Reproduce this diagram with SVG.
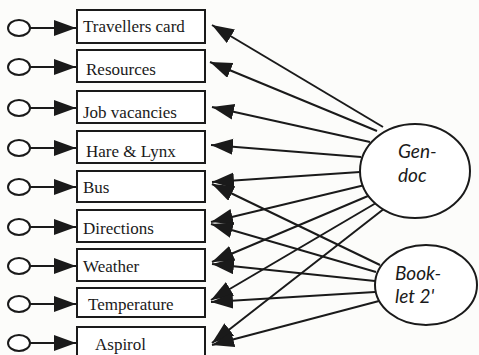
<svg xmlns="http://www.w3.org/2000/svg" width="479" height="355" viewBox="0 0 479 355">
  <style>
    .bg { fill: #fcfcfa; }
    .box { fill: #ffffff; stroke: #1a1a1a; stroke-width: 2; }
    .port { fill: #ffffff; stroke: #1a1a1a; stroke-width: 2; }
    .src { fill: #ffffff; stroke: #1a1a1a; stroke-width: 2; }
    .lbl { font-family: "Liberation Serif", "Times New Roman", serif; font-size: 17px; fill: #1a1a1a; }
    .slbl { font-family: Lato, "Open Sans", sans-serif; font-style: italic; font-size: 19px; fill: #1a1a1a; }
    .edge { stroke: #1a1a1a; stroke-width: 2; fill: none; marker-end: url(#head); }
  </style>
  <defs>
    <marker id="head" markerUnits="userSpaceOnUse" markerWidth="24" markerHeight="18" refX="22" refY="8" orient="auto">
      <path d="M0,0 L22,8 L0,16 Z" fill="#1a1a1a"/>
    </marker>
  </defs>
  <rect class="bg" x="0" y="0" width="479" height="355"/>

  <!-- input ports: small circle with arrow into each box -->
  <g id="ports">
    <g id="port-1"><ellipse class="port" cx="19" cy="28" rx="11" ry="8"/><line class="edge" x1="30" y1="28" x2="76" y2="28"/></g>
    <g id="port-2"><ellipse class="port" cx="19" cy="67" rx="11" ry="8"/><line class="edge" x1="30" y1="67" x2="76" y2="67"/></g>
    <g id="port-3"><ellipse class="port" cx="19" cy="108" rx="11" ry="8"/><line class="edge" x1="30" y1="108" x2="76" y2="108"/></g>
    <g id="port-4"><ellipse class="port" cx="19" cy="148" rx="11" ry="8"/><line class="edge" x1="30" y1="148" x2="76" y2="148"/></g>
    <g id="port-5"><ellipse class="port" cx="19" cy="187" rx="11" ry="8"/><line class="edge" x1="30" y1="187" x2="76" y2="187"/></g>
    <g id="port-6"><ellipse class="port" cx="19" cy="227" rx="11" ry="8"/><line class="edge" x1="30" y1="227" x2="76" y2="227"/></g>
    <g id="port-7"><ellipse class="port" cx="19" cy="266" rx="11" ry="8"/><line class="edge" x1="30" y1="266" x2="76" y2="266"/></g>
    <g id="port-8"><ellipse class="port" cx="19" cy="304" rx="11" ry="8"/><line class="edge" x1="30" y1="304" x2="76" y2="304"/></g>
    <g id="port-9"><ellipse class="port" cx="19" cy="343" rx="11" ry="8"/><line class="edge" x1="30" y1="343" x2="76" y2="343"/></g>
  </g>

  <!-- document boxes -->
  <g id="travellers-card"><rect class="box" x="77" y="10" width="128" height="33"/><text class="lbl" x="83" y="32">Travellers card</text></g>
  <g id="resources"><rect class="box" x="77" y="50" width="128" height="32"/><text class="lbl" x="86" y="75">Resources</text></g>
  <g id="job-vacancies"><rect class="box" x="77" y="91" width="128" height="32"/><text class="lbl" x="83" y="118">Job vacancies</text></g>
  <g id="hare-lynx"><rect class="box" x="77" y="131" width="128" height="32"/><text class="lbl" x="86" y="157">Hare &amp; Lynx</text></g>
  <g id="bus"><rect class="box" x="77" y="171" width="128" height="31"/><text class="lbl" x="83" y="193">Bus</text></g>
  <g id="directions"><rect class="box" x="77" y="210" width="128" height="32"/><text class="lbl" x="83" y="234">Directions</text></g>
  <g id="weather"><rect class="box" x="77" y="249" width="128" height="32"/><text class="lbl" x="83" y="272">Weather</text></g>
  <g id="temperature"><rect class="box" x="77" y="288" width="128" height="29"/><text class="lbl" x="88" y="310">Temperature</text></g>
  <g id="aspirol"><rect class="box" x="77" y="327" width="128" height="32"/><text class="lbl" x="95" y="350">Aspirol</text></g>

  <!-- connectors from the two sources -->
  <g id="connectors">
    <line class="edge" x1="383" y1="127" x2="212" y2="25"/>
    <line class="edge" x1="377" y1="131" x2="210" y2="62"/>
    <line class="edge" x1="370" y1="142" x2="212" y2="107"/>
    <line class="edge" x1="361" y1="157" x2="211" y2="145"/>
    <line class="edge" x1="360" y1="172" x2="212" y2="182"/>
    <line class="edge" x1="365" y1="185" x2="211" y2="222"/>
    <line class="edge" x1="368" y1="196" x2="212" y2="262"/>
    <line class="edge" x1="376" y1="203" x2="211" y2="300"/>
    <line class="edge" x1="385" y1="208" x2="212" y2="343"/>

    <line class="edge" x1="380" y1="265" x2="212" y2="184"/>
    <line class="edge" x1="376" y1="272" x2="211" y2="224"/>
    <line class="edge" x1="375" y1="281" x2="212" y2="264"/>
    <line class="edge" x1="375" y1="292" x2="211" y2="302"/>
    <line class="edge" x1="379" y1="301" x2="212" y2="345"/>
  </g>

  <!-- sources -->
  <g id="gen-doc">
    <ellipse class="src" cx="415" cy="171" rx="55" ry="47"/>
    <text class="slbl" x="398" y="158">Gen-</text>
    <text class="slbl" x="398" y="182">doc</text>
  </g>
  <g id="booklet-2">
    <ellipse class="src" cx="426" cy="285" rx="51" ry="40"/>
    <text class="slbl" x="395" y="280">Book-</text>
    <text class="slbl" x="395" y="303">let 2'</text>
  </g>
</svg>
